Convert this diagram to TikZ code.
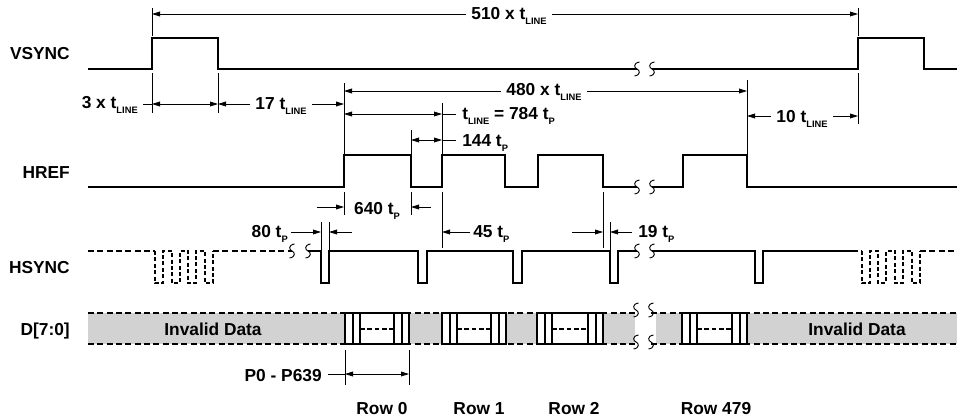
\documentclass[tikz,border=0pt]{standalone}
\usepackage{fontspec}
\setmainfont{Liberation Sans}
\usetikzlibrary{arrows.meta}
\newcommand{\tsb}[1]{t\raisebox{-4pt}{\fontsize{7}{8}\selectfont #1}}
\definecolor{dgray}{RGB}{210,210,210}
\tikzset{
  sig/.style={line width=1.4pt, line join=miter},
  dsig/.style={line width=1.3pt, dash pattern=on 4.5pt off 2.5pt},
  dpul/.style={line width=1.2pt, dash pattern=on 3pt off 1.8pt},
  dim/.style={line width=0.6pt},
  dimarr/.style={dim, {Triangle[length=6pt,width=3.6pt]}-{Triangle[length=6pt,width=3.6pt]}},
  toarr/.style={dim, -{Triangle[length=6pt,width=3.6pt]}},
  lbl/.style={font=\bfseries\fontsize{13}{15}\selectfont, inner sep=0pt},
  dlbl/.style={lbl, fill=white, inner xsep=4pt, inner ysep=1.5pt},
  brkl/.style={line width=0.7pt},
  brk/.pic={\draw[brkl] (2.5,-7) .. controls (-4,-6) and (-3,-1) .. (0,0) .. controls (3,1) and (4,6) .. (-2.5,7);},
}
\newcommand{\dbox}[2]{%
  \filldraw[sig, fill=white] (#1,313) rectangle (#2,344);
  \draw[sig] ({#1+8},313) -- ({#1+8},344) ({#1+15},313) -- ({#1+15},344)
             ({#2-15},313) -- ({#2-15},344) ({#2-7},313) -- ({#2-7},344);
  \draw[line width=1.2pt, dash pattern=on 3.5pt off 2pt] ({#1+15},329) -- ({#2-15},329);}
\begin{document}
\begin{tikzpicture}[x=0.75pt,y=-0.75pt]
\useasboundingbox (0,0) rectangle (959,419);

% ---------- signal names
\node[lbl, anchor=base east] (nv) at (70,59) {VSYNC};
\node[lbl, anchor=base east] (nh) at (70,178) {HREF};
\node[lbl, anchor=base east] (ns) at (70,273) {HSYNC};
\node[lbl, anchor=base east] (nd) at (70,335) {D[7:0]};

% ---------- VSYNC
\draw[sig] (88,69) -- (152,69) -- (152,38) -- (218,38) -- (218,69) -- (637,69);
\draw[sig] (652,69) -- (858,69) -- (858,38) -- (924,38) -- (924,69) -- (957,69);
\pic at (637,69) {brk}; \pic at (652,69) {brk};

% ---------- HREF
\draw[sig] (88,187) -- (344,187) -- (344,155) -- (411,155) -- (411,187) -- (442,187)
  -- (442,155) -- (505,155) -- (505,187) -- (538,187) -- (538,155) -- (603,155)
  -- (603,187) -- (637,187);
\draw[sig] (652,187) -- (683,187) -- (683,155) -- (747,155) -- (747,187) -- (957,187);
\pic at (637,187) {brk}; \pic at (652,187) {brk};

% ---------- HSYNC
\draw[dsig] (88,251) -- (155,251);
\draw[dpul] (155,251) -- (155,283) -- (163,283) -- (163,251) -- (172,251) -- (172,283)
  -- (180,283) -- (180,251) -- (188,251) -- (188,283) -- (196,283) -- (196,251)
  -- (205,251) -- (205,283) -- (213,283) -- (213,251);
\draw[dsig] (213,251) -- (292,251);
\pic at (292,251) {brk}; \pic at (308,251) {brk};
\draw[sig] (308,251) -- (321,251) -- (321,283) -- (329,283) -- (329,251) -- (418,251)
  -- (418,283) -- (427,283) -- (427,251) -- (513,251) -- (513,283) -- (522,283)
  -- (522,251) -- (610,251) -- (610,283) -- (618,283) -- (618,251) -- (637,251);
\pic at (637,251) {brk}; \pic at (652,251) {brk};
\draw[sig] (652,251) -- (755,251) -- (755,283) -- (763,283) -- (763,251) -- (852,251);
\draw[dsig] (852,251) -- (862,251);
\draw[dpul] (862,251) -- (862,283) -- (870,283) -- (870,251) -- (878,251) -- (878,283)
  -- (886,283) -- (886,251) -- (895,251) -- (895,283) -- (903,283) -- (903,251)
  -- (912,251) -- (912,283) -- (920,283) -- (920,251);
\draw[dsig] (920,251) -- (955,251);

% ---------- D[7:0]
\fill[dgray] (88,313) rectangle (635,344);
\fill[dgray] (656,313) rectangle (957,344);
\draw[dsig] (88,313) -- (636,313) (88,344) -- (636,344);
\draw[dsig] (651,313) -- (957,313) (651,344) -- (957,344);
\pic at (636,310) {brk}; \pic at (651,310) {brk};
\pic at (636,342) {brk}; \pic at (651,342) {brk};
\dbox{345}{409}
\dbox{442}{506}
\dbox{537}{603}
\dbox{682}{747}
\node[lbl] (inv1) at (213,329) {Invalid Data};
\node[lbl] (inv2) at (857,329) {Invalid Data};

% ---------- 510 x tLINE
\draw[dim] (152,8) -- (152,36) (858,8) -- (858,36);
\draw[dimarr] (152,14) -- (858,14);
\node[dlbl, anchor=base] (d510) at (509,19) {510 x \tsb{LINE}};

% ---------- 3 x tLINE and 17 tLINE
\draw[dim] (152,73) -- (152,113) (218,73) -- (218,113);
\draw[dim] (143,104) -- (152,104);
\draw[dimarr] (152,104) -- (218,104);
\node[lbl, anchor=base east] (d3) at (138,108) {3 x \tsb{LINE}};
\draw[dim] (344,83) -- (344,155);
\draw[dimarr] (218,104) -- (344,104);
\node[dlbl, anchor=base] (d17) at (281,109) {17 \tsb{LINE}};

% ---------- 480 x tLINE
\draw[dim] (747,80) -- (747,155);
\draw[dimarr] (344,91) -- (747,91);
\node[dlbl, anchor=base] (d480) at (544,95) {480 x \tsb{LINE}};

% ---------- tLINE = 784 tP
\draw[dim] (442,103) -- (442,155);
\draw[dimarr] (344,114) -- (442,114);
\draw[dim] (442,114) -- (456,114);
\node[lbl, anchor=base west] (dline) at (462,119) {\tsb{LINE} = 784 \tsb{P}};

% ---------- 144 tP
\draw[dim] (411,130) -- (411,155);
\draw[dimarr] (411,140) -- (442,140);
\draw[dim] (442,140) -- (456,140);
\node[lbl, anchor=base west] (d144) at (462,146) {144 \tsb{P}};

% ---------- 10 tLINE
\draw[dim] (858,73) -- (858,124);
\draw[dimarr] (747,116) -- (858,116);
\node[dlbl, anchor=base] (d10) at (802,122) {10 \tsb{LINE}};

% ---------- 640 tP
\draw[dim] (344,192) -- (344,215) (411,192) -- (411,215);
\draw[toarr] (317,207) -- (344,207);
\draw[toarr] (431,207) -- (411,207);
\node[lbl, anchor=base] (d640) at (377,214) {640 \tsb{P}};

% ---------- 80 tP
\draw[dim] (321,222) -- (321,251) (329,222) -- (329,251);
\draw[toarr] (291,232) -- (321,232);
\draw[toarr] (352,232) -- (329,232);
\node[lbl, anchor=base east] (d80) at (288,237) {80 \tsb{P}};

% ---------- 45 tP and 19 tP
\draw[dim] (442,192) -- (442,248) (603,192) -- (603,248);
\draw[toarr] (470,232) -- (442,232);
\draw[toarr] (572,232) -- (603,232);
\node[lbl, anchor=base west] (d45) at (473,237) {45 \tsb{P}};
\draw[dim] (610,222) -- (610,251);
\draw[toarr] (632,232) -- (610,232);
\node[lbl, anchor=base west] (d19) at (638,237) {19 \tsb{P}};

% ---------- P0 - P639
\draw[dim] (345,350) -- (345,385) (409,350) -- (409,385);
\draw[dim] (328,374) -- (345,374);
\draw[dimarr] (345,374) -- (409,374);
\node[lbl, anchor=base east] (dp) at (322,381) {P0 - P639};

% ---------- rows
\node[lbl, anchor=base] (r0) at (382,414) {Row 0};
\node[lbl, anchor=base] (r1) at (479,414) {Row 1};
\node[lbl, anchor=base] (r2) at (574,414) {Row 2};
\node[lbl, anchor=base] (r479) at (716,414) {Row 479};
\end{tikzpicture}
\end{document}
